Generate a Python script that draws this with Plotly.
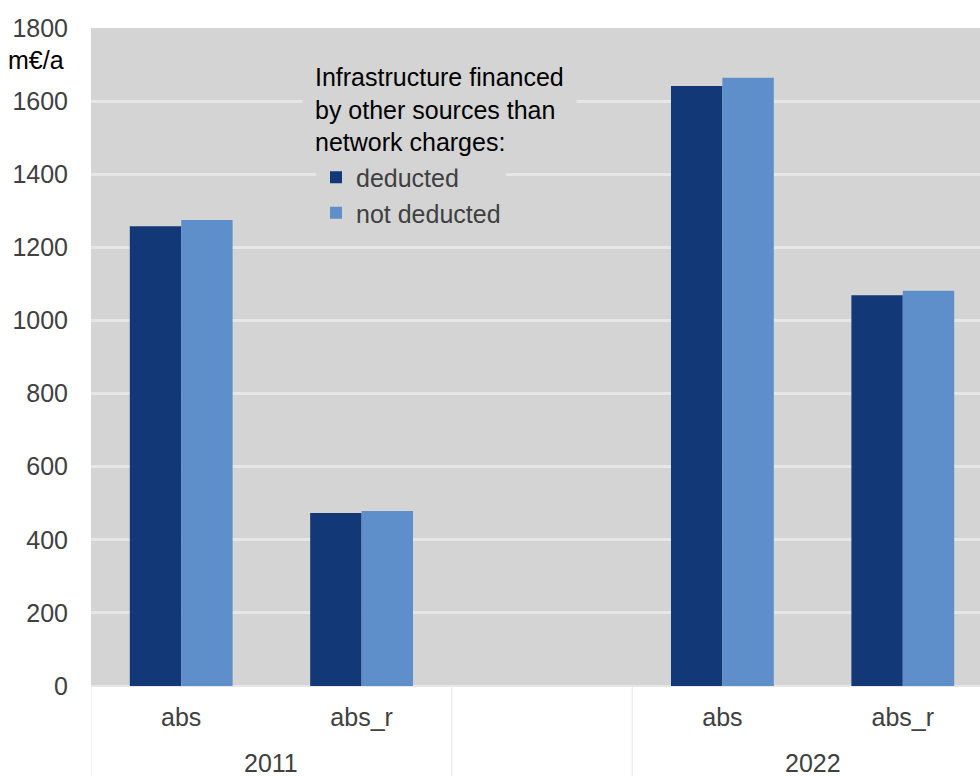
import plotly.graph_objects as go

# Data (m€/a)
years = ["2011", "2011", "", "2022", "2022"]
measures = ["abs", "abs_r", "", "abs", "abs_r"]
deducted = [1258, 473, None, 1641, 1069]
not_deducted = [1275, 479, None, 1664, 1081]
y_ticks = [0, 200, 400, 600, 800, 1000, 1200, 1400, 1600, 1800]

# one unique category key per slot (the empty slot separates the two years)
slots = [f"{y}|{m}" if m else "gap" for y, m in zip(years, measures)]

DARK = "#133877"
LIGHT = "#5E8FCA"
PLOT_BG = "#D4D4D4"
GRID = "#E6E6E6"
FONT = "Liberation Sans, Arial, sans-serif"

fig = go.Figure()
fig.add_trace(go.Bar(x=slots, y=deducted, name="deducted",
                     marker=dict(color=DARK, line=dict(width=0))))
fig.add_trace(go.Bar(x=slots, y=not_deducted, name="not deducted",
                     marker=dict(color=LIGHT, line=dict(width=0))))

fig.update_layout(
    width=980, height=776,
    margin=dict(l=91, r=0, t=28, b=90),
    paper_bgcolor="white",
    plot_bgcolor=PLOT_BG,
    barmode="group",
    bargap=0.43,
    bargroupgap=0,
    font=dict(family=FONT, size=25, color="#404040"),
    showlegend=True,
    legend=dict(
        x=0.2531, y=0.8076, xanchor="left", yanchor="top",
        bgcolor=PLOT_BG, borderwidth=0,
        font=dict(family=FONT, size=25, color="#404040"),
        itemwidth=30, itemclick=False,
    ),
)

fig.update_yaxes(
    range=[0, 1800], tickvals=y_ticks,
    showgrid=True, gridcolor=GRID, gridwidth=3,
    zeroline=True, zerolinecolor=GRID, zerolinewidth=2,
    showline=False, ticks="", ticklabelstandoff=22,
    tickfont=dict(family=FONT, size=25, color="#404040"),
)
fig.update_xaxes(
    type="category",
    categoryorder="array", categoryarray=slots,
    tickvals=slots, ticktext=measures,
    range=[-0.5, 4.428],
    showgrid=False, showline=False, ticks="",
    ticklabelstandoff=14,
    tickfont=dict(family=FONT, size=25, color="#404040"),
)

# year group labels, centred under each pair of categories
year_groups = {}
for i, y in enumerate(years):
    if y:
        year_groups.setdefault(y, []).append(i)
for y, idx in year_groups.items():
    fig.add_annotation(
        text=y, xref="x", yref="paper",
        x=sum(idx) / len(idx), y=-0.117, xanchor="center", yanchor="middle",
        showarrow=False, font=dict(family=FONT, size=25, color="#404040"),
    )

# group dividers below the axis
bounds = [-0.5]
for i in range(1, len(years)):
    if years[i] != years[i - 1]:
        bounds.append(i - 0.5)
bounds.append(len(years) - 0.5)
for b in bounds:
    fig.add_shape(type="line", xref="x", yref="paper",
                  x0=b, x1=b, y0=0, y1=-0.137,
                  line=dict(color=GRID, width=1))

# unit label
fig.add_annotation(
    text="m€/a", xref="paper", yref="paper",
    x=-0.0281, y=0.9514, xanchor="right", yanchor="middle",
    showarrow=False, font=dict(family=FONT, size=25, color="black"),
)

# legend heading
fig.add_annotation(
    text="Infrastructure financed<br>by other sources than<br>network charges:",
    xref="paper", yref="paper",
    x=0.2373, y=0.9666, xanchor="left", yanchor="top",
    align="left", showarrow=False,
    bgcolor=PLOT_BG, borderpad=12,
    font=dict(family=FONT, size=25, color="black"),
)

fig.write_html("out.html")
